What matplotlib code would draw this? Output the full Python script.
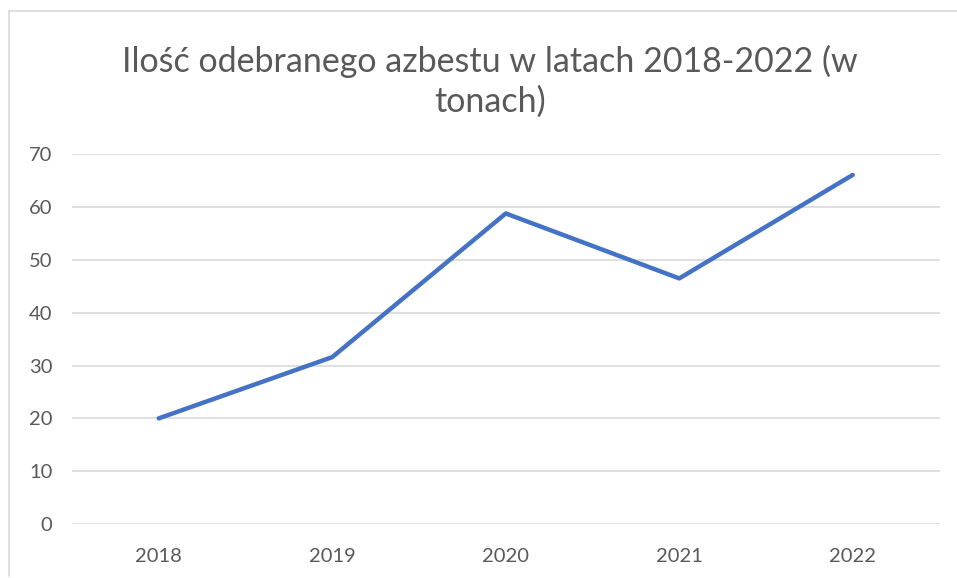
import matplotlib
matplotlib.use("Agg")
import matplotlib.pyplot as plt
from matplotlib.lines import Line2D

years = ["2018", "2019", "2020", "2021", "2022"]
values = [20.0, 31.6, 58.8, 46.5, 66.1]
yticks = [0, 10, 20, 30, 40, 50, 60, 70]
title = "Ilość odebranego azbestu w latach 2018-2022 (w\ntonach)"

W, H = 957, 578
fig = plt.figure(figsize=(W / 100, H / 100), dpi=100)
plt.rcParams['font.family'] = ['Lato', 'DejaVu Sans']

ax = fig.add_axes([72 / W, 1 - 524 / H, (939.5 - 72) / W, (524 - 154.3) / H])
x = list(range(len(years)))
ax.plot(x, values, color="#4472C4", linewidth=3.2, solid_capstyle="round", solid_joinstyle="round", zorder=3)
ax.set_xlim(-0.5, len(years) - 0.5)
ax.set_ylim(0, 70)
ax.set_yticks(yticks)
ax.set_yticklabels([str(v) for v in yticks])
ax.set_xticks(x)
ax.set_xticklabels(years)
ax.grid(axis="y", color="#d9d9d9", linewidth=1.2)
ax.set_axisbelow(True)
for s in ax.spines.values():
    s.set_visible(False)
ax.tick_params(axis="both", length=0, colors="#595959", labelsize=14.5)
ax.tick_params(axis="y", pad=14)
ax.tick_params(axis="x", pad=17.5)

fig.text(490 / W, 1 - 81 / H, title, ha="center", va="center", fontsize=24.5,
         color="#595959", linespacing=1.3)

# chart-area border (cropped on right and bottom)
fig.add_artist(Line2D([8.5 / W, 1.0], [1 - 10.5 / H, 1 - 10.5 / H], color="#d9d9d9", linewidth=1.2))
fig.add_artist(Line2D([8.5 / W, 8.5 / W], [1 - 10.5 / H, 1 - 576 / H], color="#d9d9d9", linewidth=1.2))

fig.savefig("out.png", dpi=100, facecolor="white")
